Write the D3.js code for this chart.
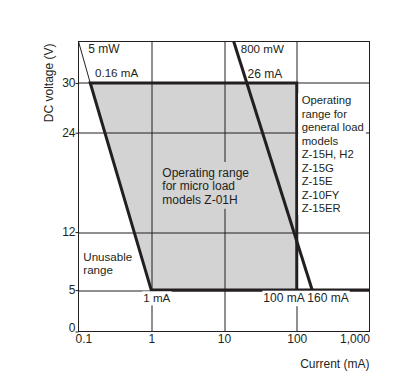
<!DOCTYPE html>
<meta charset="utf-8">
<head>
<script src="https://d3js.org/d3.v7.min.js"></script>
<style>
  body { margin: 0; background: #fff; }
  text { font-family: "Liberation Sans", Arial, sans-serif; fill: #231f20; }
</style>
</head>
<body>
<div id="chart"></div>
<script>

// data: current in mA, voltage in V
var currentTicks = [0.1, 1, 10, 100, 1000];
var currentTickLabels = ["0.1", "1", "10", "100", "1,000"];
var voltageTicks = [0, 5, 12, 24, 30];

var microRange = [[0.145, 30], [100, 30], [100, 5], [1, 5]];
var microOutline = [[1000, 5], [1, 5], [0.145, 30], [100, 30], [100, 5]];
var line5mW = [[0.1, 35], [0.145, 30]];
var line800mW = [[13.6, 35], [163, 5]];

var generalLoadLabel = ["Operating", "range for", "general load", "models", "Z-15H, H2", "Z-15G", "Z-15E", "Z-10FY", "Z-15ER"];
var microLoadLabel = ["Operating range", "for micro load", "models Z-01H"];
var unusableLabel = ["Unusable", "range"];

var W = 401, H = 385;
var margin = {top: 41.5, right: 31.5, bottom: 53.5, left: 78.5};
var width = W - margin.left - margin.right,
    height = H - margin.top - margin.bottom;
var ink = "#231f20";

var svg = d3.select("#chart").append("svg")
    .attr("width", W)
    .attr("height", H);

svg.append("rect").attr("width", W).attr("height", H).attr("fill", "#fff");

var g = svg.append("g")
    .attr("transform", "translate(" + margin.left + "," + margin.top + ")");

var x = d3.scaleLog().domain([0.1, 1000]).range([0, width]);
var y = d3.scaleLinear().domain([0, 35]).range([height, 0]);

var line = d3.line()
    .x(function(d) { return x(d[0]); })
    .y(function(d) { return y(d[1]); });

// grey operating range
g.append("path")
    .attr("d", line(microRange) + "Z")
    .attr("fill", "#d3d3d3");

// grid lines
g.append("g").selectAll("line")
    .data(currentTicks.slice(1, -1))
    .join("line")
    .attr("x1", function(d) { return Math.round(x(d)) + 0.5; })
    .attr("x2", function(d) { return Math.round(x(d)) + 0.5; })
    .attr("y1", 0).attr("y2", height)
    .attr("stroke", ink).attr("stroke-width", 1);

g.append("g").selectAll("line")
    .data(voltageTicks.slice(1))
    .join("line")
    .attr("x1", 0).attr("x2", width)
    .attr("y1", function(d) { return Math.round(y(d)) + 0.5; })
    .attr("y2", function(d) { return Math.round(y(d)) + 0.5; })
    .attr("stroke", ink).attr("stroke-width", 1);

// frame
g.append("rect")
    .attr("width", width).attr("height", height)
    .attr("fill", "none").attr("stroke", ink).attr("stroke-width", 1);

// axes
var yAxis = g.append("g")
    .call(d3.axisLeft(y).tickValues(voltageTicks).tickSize(3).tickPadding(0));
yAxis.select(".domain").remove();
yAxis.selectAll("line").attr("stroke", ink);
yAxis.selectAll("text").attr("font-size", 12).style("fill", ink)
    .attr("dy", function(d) { return d === 0 ? "0.04em" : "0.32em"; });
yAxis.attr("font-family", null).attr("font-size", null);

var xAxis = g.append("g")
    .attr("transform", "translate(0," + height + ")")
    .call(d3.axisBottom(x).tickValues(currentTicks).tickSize(0).tickPadding(3)
      .tickFormat(function(d, i) { return currentTickLabels[i]; }));
xAxis.select(".domain").remove();
xAxis.attr("font-family", null).attr("font-size", null);
xAxis.selectAll("text").attr("font-size", 12).style("fill", ink)
    .attr("text-anchor", function(d, i) { return i === 0 ? "start" : (i === currentTicks.length - 1 ? "end" : "middle"); })
    .attr("dx", function(d, i) { return i === 0 ? -3.5 : 0; });

// axis titles
svg.append("text")
    .attr("transform", "translate(53,43.5) rotate(-90)")
    .attr("text-anchor", "end")
    .attr("font-size", 12)
    .text("DC voltage (V)");

svg.append("text")
    .attr("x", 369.5).attr("y", 368)
    .attr("text-anchor", "end")
    .attr("font-size", 12)
    .text("Current (mA)");

// multi line labels with an optional background box
function label(lines, px, py, lh, size, bg, pad) {
  var lg = svg.append("g");
  var t = lg.append("text").attr("font-size", size);
  lines.forEach(function(s, i) {
    t.append("tspan").attr("x", px).attr("y", py + i * lh).text(s);
  });
  if (bg) {
    var b = t.node().getBBox();
    lg.insert("rect", "text")
      .attr("x", b.x - pad[3]).attr("y", b.y - pad[0])
      .attr("width", b.width + pad[1] + pad[3])
      .attr("height", b.height + pad[0] + pad[2])
      .attr("fill", bg);
  }
}

label(generalLoadLabel, 301.7, 104, 13.5, 11.3, "#fff", [1, 2, 1, 3.5]);
label(microLoadLabel, 162.3, 177, 13.4, 12, "#d3d3d3", [4, 1, 2, 1]);
label(unusableLabel, 83.3, 260.5, 13, 11.6, null);
label(["1 mA"], 143.3, 302.3, 13, 11.6, "#fff", [0, 1, 1, 1]);
label(["100 mA 160 mA"], 263.3, 301.7, 13, 12, "#fff", [0, 1, 1.5, 1]);
label(["5 mW"], 88.3, 52.7, 13, 12, null);
label(["0.16 mA"], 95, 77.3, 13, 11.6, null);
label(["800 mW"], 240.7, 53.3, 13, 11.6, null);
label(["26 mA"], 247.5, 77.7, 13, 12, null);

// power limit lines and range outline
g.append("path")
    .attr("d", line(line5mW))
    .attr("fill", "none").attr("stroke", ink).attr("stroke-width", 1);

g.append("path")
    .attr("d", line(microOutline))
    .attr("fill", "none").attr("stroke", ink).attr("stroke-width", 3);

g.append("path")
    .attr("d", line(line800mW))
    .attr("fill", "none").attr("stroke", ink).attr("stroke-width", 3);

</script>
</body>
